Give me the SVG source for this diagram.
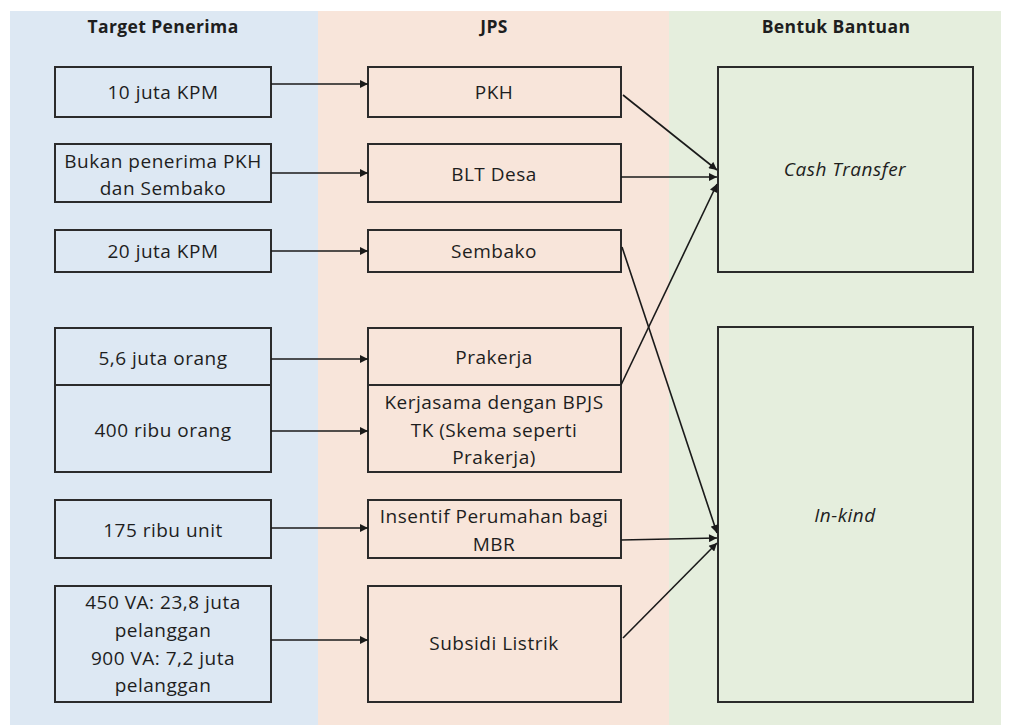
<svg xmlns="http://www.w3.org/2000/svg" width="1010" height="727" viewBox="0 0 1010 727">
<style>
.box{fill:none;stroke:#2b2b2b;stroke-width:2}
.t{font-family:"Open Sans","Liberation Sans",sans-serif;font-size:19px;fill:#1e1e1e;text-anchor:middle;letter-spacing:0.5px}
.h{font-family:"Open Sans","Liberation Sans",sans-serif;font-size:17.5px;font-weight:bold;fill:#1e1e1e;text-anchor:middle;letter-spacing:0.4px}
.i{font-style:italic}
.c{fill:none;stroke:#1a1a1a;stroke-width:1.6}
</style>
<defs>
<marker id="ah" viewBox="0 0 10 10" refX="10" refY="5" markerWidth="9" markerHeight="8" markerUnits="userSpaceOnUse" orient="auto">
<path d="M0,0 L10,5 L0,10 z" fill="#1a1a1a"/>
</marker>
</defs>
<rect width="1010" height="727" fill="#ffffff"/>
<g id="panels">
<rect x="10" y="11" width="308" height="714" fill="#dde8f3"/>
<rect x="318" y="11" width="351" height="714" fill="#f8e5da"/>
<rect x="669" y="11" width="332" height="714" fill="#e5eedd"/>
<text class="h" x="163" y="33">Target Penerima</text>
<text class="h" x="494" y="33">JPS</text>
<text class="h" x="836" y="33">Bentuk Bantuan</text>
</g>
<g id="t1"><rect class="box" x="55" y="67" width="216" height="50"/><text class="t" x="163" y="99">10 juta KPM</text></g>
<g id="t2"><rect class="box" x="55" y="144" width="216" height="58"/><text class="t" x="163" y="168">Bukan penerima PKH</text><text class="t" x="163" y="195">dan Sembako</text></g>
<g id="t3"><rect class="box" x="55" y="230" width="216" height="42"/><text class="t" x="163" y="258">20 juta KPM</text></g>
<g id="t4"><rect class="box" x="55" y="328" width="216" height="57"/><text class="t" x="163" y="365">5,6 juta orang</text></g>
<g id="t5"><rect class="box" x="55" y="385" width="216" height="87"/><text class="t" x="163" y="437">400 ribu orang</text></g>
<g id="t6"><rect class="box" x="55" y="500" width="216" height="58"/><text class="t" x="163" y="537">175 ribu unit</text></g>
<g id="t7"><rect class="box" x="55" y="586" width="216" height="116"/><text class="t" x="163" y="609">450 VA: 23,8 juta</text><text class="t" x="163" y="637">pelanggan</text><text class="t" x="163" y="665">900 VA: 7,2 juta</text><text class="t" x="163" y="692">pelanggan</text></g>
<g id="j1"><rect class="box" x="368" y="67" width="253" height="50"/><text class="t" x="494" y="99">PKH</text></g>
<g id="j2"><rect class="box" x="368" y="144" width="253" height="58"/><text class="t" x="494" y="181">BLT Desa</text></g>
<g id="j3"><rect class="box" x="368" y="230" width="253" height="42"/><text class="t" x="494" y="258">Sembako</text></g>
<g id="j4"><rect class="box" x="368" y="328" width="253" height="57"/><text class="t" x="494" y="364">Prakerja</text></g>
<g id="j5"><rect class="box" x="368" y="385" width="253" height="87"/><text class="t" x="494" y="409">Kerjasama dengan BPJS</text><text class="t" x="494" y="437">TK (Skema seperti</text><text class="t" x="494" y="464">Prakerja)</text></g>
<g id="j6"><rect class="box" x="368" y="500" width="253" height="58"/><text class="t" x="494" y="523">Insentif Perumahan bagi</text><text class="t" x="494" y="551">MBR</text></g>
<g id="j7"><rect class="box" x="368" y="586" width="253" height="116"/><text class="t" x="494" y="650">Subsidi Listrik</text></g>
<g id="b1"><rect class="box" x="718" y="67" width="255" height="205"/><text class="t i" x="845" y="176">Cash Transfer</text></g>
<g id="b2"><rect class="box" x="718" y="327" width="255" height="375"/><text class="t i" x="845" y="522">In-kind</text></g>
<g id="connectors">
<line class="c" x1="271" y1="84" x2="368" y2="84" marker-end="url(#ah)"/>
<line class="c" x1="271" y1="173" x2="368" y2="173" marker-end="url(#ah)"/>
<line class="c" x1="271" y1="251" x2="368" y2="251" marker-end="url(#ah)"/>
<line class="c" x1="271" y1="359" x2="368" y2="359" marker-end="url(#ah)"/>
<line class="c" x1="271" y1="431" x2="368" y2="431" marker-end="url(#ah)"/>
<line class="c" x1="271" y1="528" x2="368" y2="528" marker-end="url(#ah)"/>
<line class="c" x1="271" y1="640" x2="368" y2="640" marker-end="url(#ah)"/>
<line class="c" x1="623" y1="95" x2="717" y2="170" marker-end="url(#ah)"/>
<line class="c" x1="621" y1="177" x2="717" y2="177" marker-end="url(#ah)"/>
<line class="c" x1="621" y1="385" x2="717" y2="184" marker-end="url(#ah)"/>
<line class="c" x1="622" y1="247" x2="717" y2="533" marker-end="url(#ah)"/>
<line class="c" x1="621" y1="540" x2="717" y2="538" marker-end="url(#ah)"/>
<line class="c" x1="623" y1="638" x2="717" y2="543" marker-end="url(#ah)"/>
</g>
</svg>
